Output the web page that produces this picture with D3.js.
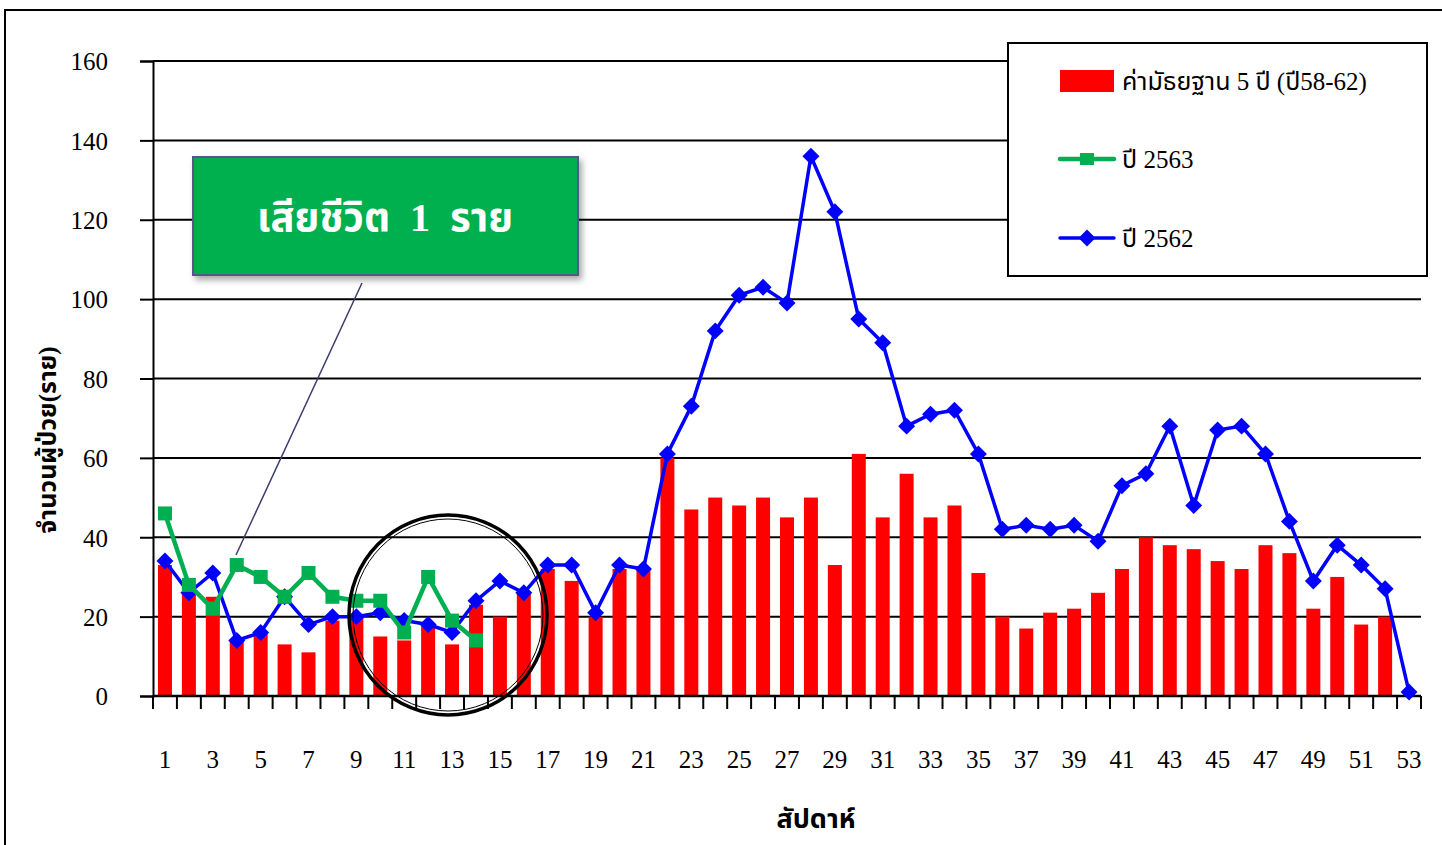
<!DOCTYPE html>
<html>
<head>
<meta charset="utf-8">
<script src="https://d3js.org/d3.v7.min.js"></script>
<style>
  body { margin: 0; background: #fff; }
  svg text { font-family: "Liberation Serif", "Noto Sans Thai", "Noto Serif Thai", serif; fill: #000; }
</style>
</head>
<body>
<script>
// weeks 1..53
var weeks = d3.range(1, 54);
// 5 year median (58-62)
var median = [33, 26, 25, 14, 16, 13, 11, 19, 20, 15, 14, 18, 13, 23, 20, 26, 32, 29, 20, 32,
              32, 60, 47, 50, 48, 50, 45, 50, 33, 61, 45, 56, 45, 48, 31, 20, 17, 21, 22, 26,
              32, 40, 38, 37, 34, 32, 38, 36, 22, 30, 18, 20, 0];
// year 2563 (weeks 1-14)
var y2563 = [46, 28, 22, 33, 30, 25, 31, 25, 24, 24, 16, 30, 19, 14];
// year 2562
var y2562 = [34, 26, 31, 14, 16, 25, 18, 20, 20, 21, 19, 18, 16, 24, 29, 26, 33, 33, 21, 33,
             32, 61, 73, 92, 101, 103, 99, 136, 122, 95, 89, 68, 71, 72, 61, 42, 43, 42, 43, 39,
             53, 56, 68, 48, 67, 68, 61, 44, 29, 38, 33, 27, 1];
var yTicks = [0, 20, 40, 60, 80, 100, 120, 140, 160];
var xLabels = weeks.filter(function(d) { return d % 2 == 1; });

var W = 1442, H = 845;
var pLeft = 153, pRight = 1421, pTop = 61, pBottom = 696;

var svg = d3.select("body").append("svg")
  .attr("width", W).attr("height", H);

var defs = svg.append("defs");
var f = defs.append("filter").attr("id", "shadow").attr("x", "-10%").attr("y", "-10%")
  .attr("width", "130%").attr("height", "140%");
f.append("feDropShadow").attr("dx", 3).attr("dy", 4).attr("stdDeviation", 3)
  .attr("flood-color", "#000").attr("flood-opacity", 0.35);

// outer frame
svg.append("rect").attr("x", 5).attr("y", 10).attr("width", W + 10).attr("height", H + 10)
  .attr("fill", "none").attr("stroke", "#000").attr("stroke-width", 2);

var step = (pRight - pLeft) / 53;
var xp = d3.scalePoint().domain(weeks).range([pLeft + step / 2, pRight - step / 2]);
var y = d3.scaleLinear().domain([0, 160]).range([pBottom, pTop]);

// grid lines
svg.append("g").selectAll("line").data(yTicks.slice(1)).enter().append("line")
  .attr("x1", pLeft).attr("x2", pRight)
  .attr("y1", function(d) { return y(d); }).attr("y2", function(d) { return y(d); })
  .attr("stroke", "#000").attr("stroke-width", 2);

// y axis
var yAxis = svg.append("g").attr("transform", "translate(" + pLeft + ",0)")
  .call(d3.axisLeft(y).tickValues(yTicks).tickSize(13).tickPadding(32));
yAxis.select(".domain").attr("stroke-width", 2);
yAxis.selectAll(".tick line").attr("stroke-width", 2);
yAxis.selectAll("text").style("font-size", "25px").attr("dy", "0.35em");

// bars
svg.append("g").selectAll("rect").data(median).enter().append("rect")
  .attr("x", function(d, i) { return xp(weeks[i]) - 7; })
  .attr("width", 14)
  .attr("y", function(d) { return y(d); })
  .attr("height", function(d) { return pBottom - y(d); })
  .attr("fill", "#ff0000");

// x axis
var xAxis = svg.append("g").attr("transform", "translate(0," + pBottom + ")");
xAxis.append("line").attr("x1", pLeft).attr("x2", pRight).attr("stroke", "#000").attr("stroke-width", 2.5);
xAxis.selectAll(".tk").data(d3.range(54)).enter().append("line")
  .attr("x1", function(d) { return pLeft + d * step; })
  .attr("x2", function(d) { return pLeft + d * step; })
  .attr("y1", 0).attr("y2", 13).attr("stroke", "#000").attr("stroke-width", 2);
xAxis.selectAll(".lb").data(xLabels).enter().append("text")
  .attr("x", function(d) { return xp(d); }).attr("y", 72)
  .attr("text-anchor", "middle").style("font-size", "25px")
  .text(function(d) { return d; });

// lines
var line = d3.line().x(function(d, i) { return xp(weeks[i]); }).y(function(d) { return y(d); });

svg.append("path").datum(y2562).attr("d", line)
  .attr("fill", "none").attr("stroke", "#0000ff").attr("stroke-width", 3.5);
svg.append("g").selectAll("rect").data(y2562).enter().append("rect")
  .attr("x", -6).attr("y", -6).attr("width", 12).attr("height", 12)
  .attr("transform", function(d, i) { return "translate(" + xp(weeks[i]) + "," + y(d) + ") rotate(45)"; })
  .attr("fill", "#0000ff");

svg.append("path").datum(y2563).attr("d", line)
  .attr("fill", "none").attr("stroke", "#00b050").attr("stroke-width", 4.5);
svg.append("g").selectAll("rect").data(y2563).enter().append("rect")
  .attr("x", function(d, i) { return xp(weeks[i]) - 7; })
  .attr("y", function(d) { return y(d) - 7; })
  .attr("width", 14).attr("height", 14)
  .attr("fill", "#00b050");

// circle highlight
svg.append("ellipse").attr("cx", 448).attr("cy", 615).attr("rx", 99).attr("ry", 100)
  .attr("fill", "none").attr("stroke", "#000").attr("stroke-width", 3.5);
svg.append("ellipse").attr("cx", 448).attr("cy", 615).attr("rx", 95).attr("ry", 96)
  .attr("fill", "none").attr("stroke", "#000").attr("stroke-width", 1);

// callout
svg.append("line").attr("x1", 362).attr("y1", 283).attr("x2", 236).attr("y2", 555)
  .attr("stroke", "#3c3c6c").attr("stroke-width", 1.5);
svg.append("rect").attr("x", 193).attr("y", 157).attr("width", 385).attr("height", 118)
  .attr("fill", "#00b050").attr("stroke", "#56568a").attr("stroke-width", 2)
  .attr("filter", "url(#shadow)");
svg.append("text").attr("x", 385).attr("y", 231).attr("text-anchor", "middle")
  .style("font-size", "40px").style("font-weight", "bold").style("fill", "#fff")
  .attr("xml:space", "preserve")
  .text("เสียชีวิต  1  ราย");

// legend
var lg = svg.append("g");
lg.append("rect").attr("x", 1008).attr("y", 43).attr("width", 419).attr("height", 233)
  .attr("fill", "#fff").attr("stroke", "#000").attr("stroke-width", 2);
lg.append("rect").attr("x", 1060).attr("y", 70).attr("width", 54).attr("height", 22).attr("fill", "#ff0000");
lg.append("text").attr("x", 1122).attr("y", 90).style("font-size", "25px").text("ค่ามัธยฐาน 5 ปี (ปี58-62)");
lg.append("line").attr("x1", 1060).attr("x2", 1114).attr("y1", 159).attr("y2", 159)
  .attr("stroke", "#00b050").attr("stroke-width", 4.5).attr("stroke-linecap", "round");
lg.append("rect").attr("x", 1080).attr("y", 153).attr("width", 14).attr("height", 12).attr("fill", "#00b050");
lg.append("text").attr("x", 1122).attr("y", 168).style("font-size", "25px").text("ปี 2563");
lg.append("line").attr("x1", 1060).attr("x2", 1114).attr("y1", 238).attr("y2", 238)
  .attr("stroke", "#0000ff").attr("stroke-width", 3.5).attr("stroke-linecap", "round");
lg.append("rect").attr("x", -6).attr("y", -6).attr("width", 12).attr("height", 12)
  .attr("transform", "translate(1087,238) rotate(45)").attr("fill", "#0000ff");
lg.append("text").attr("x", 1122).attr("y", 247).style("font-size", "25px").text("ปี 2562");

// axis titles
svg.append("text").attr("transform", "translate(56,440) rotate(-90)")
  .attr("text-anchor", "middle").style("font-size", "25px").style("font-weight", "bold")
  .text("จำนวนผู้ป่วย(ราย)");
svg.append("text").attr("x", 816).attr("y", 828).attr("text-anchor", "middle")
  .style("font-size", "27px").style("font-weight", "bold")
  .text("สัปดาห์");
</script>
</body>
</html>
